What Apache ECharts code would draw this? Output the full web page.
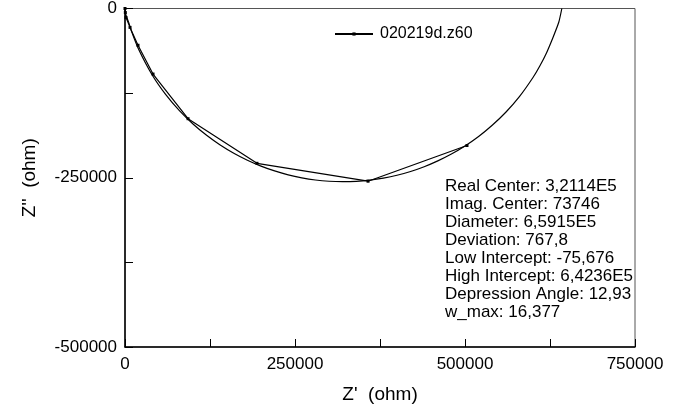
<!DOCTYPE html>
<html>
<head>
<meta charset="utf-8">
<script src="https://cdn.jsdelivr.net/npm/echarts@6/dist/echarts.min.js"></script>
<style>
  html, body { margin: 0; padding: 0; background: #fff; }
  #chart { width: 694px; height: 409px; }
</style>
</head>
<body>
<div id="chart"></div>
<script>
// measured points (Z', Z'')
const dataZre = [0, 500, 1500, 7400, 19100, 41200, 92700, 194100, 357400, 502900];
const dataZim = [0, -6000, -13200, -27900, -54300, -96800, -162800, -228700, -255100, -202400];

// fitted arc
const fitZre = [0, 1000, 5000, 10000, 20000, 40000, 60000, 80000, 100000, 120000, 140000, 160000,
  180000, 200000, 220000, 240000, 260000, 280000, 300000, 320000, 340000, 360000, 380000, 400000,
  420000, 440000, 460000, 480000, 500000, 520000, 540000, 560000, 580000, 600000, 610000, 620000,
  630000, 638000, 642400];
const fitZim = [0, -9000, -19400, -34900, -60200, -98200, -127300, -150900, -170600, -187300, -201600, -213800,
  -224100, -232800, -239900, -245700, -250100, -253300, -255200, -255800, -255300, -253500, -250500, -246300,
  -240700, -233700, -225100, -215000, -203100, -189100, -172500, -153300, -130200, -101900, -84900, -65200,
  -41300, -20000, 0];

const xTicks = [0, 250000, 500000, 750000];
const yTicks = [0, -250000, -500000];

const fitInfo = [
  'Real Center: 3,2114E5',
  'Imag. Center: 73746',
  'Diameter: 6,5915E5',
  'Deviation: 767,8',
  'Low Intercept: -75,676',
  'High Intercept: 6,4236E5',
  'Depression Angle: 12,93',
  'w_max: 16,377',
];

const seriesName = '020219d.z60';
const font = '"Liberation Sans", Arial, sans-serif';

const chart = echarts.init(document.getElementById('chart'));

const pairs = (xs, ys) => xs.map((x, i) => [x, ys[i]]);

chart.setOption({
  animation: false,
  backgroundColor: '#fff',
  textStyle: { fontFamily: font, color: '#000' },
  grid: {
    left: 125, right: 59, top: 6, bottom: 62,
    show: true, borderColor: '#555', borderWidth: 1,
  },
  legend: {
    left: 329, top: 21,
    itemWidth: 38, itemHeight: 4, itemGap: 10,
    textStyle: { fontSize: 16, fontFamily: font, color: '#000', padding: [0, 0, 0, 2] },
    data: [seriesName],
  },
  xAxis: {
    type: 'value',
    min: 0, max: 750000, interval: 125000,
    name: "Z'  (ohm)",
    nameLocation: 'middle', nameGap: 38,
    nameTextStyle: { fontSize: 19, fontFamily: font, color: '#000' },
    axisLine: { onZero: false, lineStyle: { color: '#000', width: 1.5 } },
    axisTick: { inside: true, length: 8, lineStyle: { color: '#000' } },
    splitLine: { show: false },
    axisLabel: {
      fontSize: 17, color: '#000', fontFamily: font, margin: 9,
      formatter: v => xTicks.includes(v) ? String(v) : '',
    },
  },
  yAxis: {
    type: 'value',
    min: -500000, max: 0, interval: 125000,
    name: "Z''  (ohm)",
    nameLocation: 'middle', nameGap: 86,
    nameTextStyle: { fontSize: 19, fontFamily: font, color: '#000' },
    axisLine: { onZero: false, lineStyle: { color: '#000', width: 1.5 } },
    axisTick: { inside: true, length: 8, lineStyle: { color: '#000' } },
    splitLine: { show: false },
    axisLabel: {
      fontSize: 17, color: '#000', fontFamily: font, margin: 8,
      formatter: v => yTicks.includes(v) ? String(v) : '',
    },
  },
  graphic: [{
    type: 'text',
    left: 445, top: 177,
    style: {
      text: fitInfo.join('\n'),
      font: '17px ' + font,
      lineHeight: 18,
      fill: '#000',
    },
  }],
  series: [
    {
      name: seriesName,
      type: 'line',
      data: pairs(dataZre, dataZim),
      symbol: 'rect', symbolSize: 3,
      lineStyle: { color: '#000', width: 1.2 },
      itemStyle: { color: '#000' },
      z: 3,
    },
    {
      name: 'fit',
      type: 'line',
      data: pairs(fitZre, fitZim),
      smooth: 0.2,
      showSymbol: false,
      lineStyle: { color: '#000', width: 1.2 },
      itemStyle: { color: '#000' },
    },
  ],
});
</script>
</body>
</html>
